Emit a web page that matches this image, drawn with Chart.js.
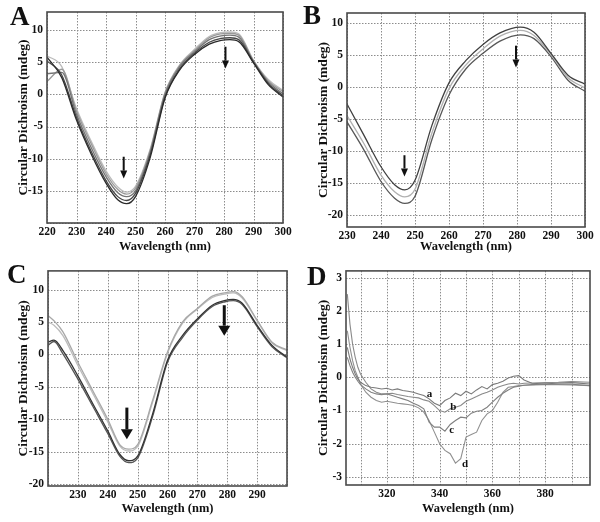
<!DOCTYPE html>
<html>
<head>
<meta charset="utf-8">
<script src="https://cdn.jsdelivr.net/npm/chart.js@4.4.0/dist/chart.umd.min.js"></script>
<style>
  body { margin: 0; background: #fff; }
  #wrap { position: relative; width: 600px; height: 522px; overflow: hidden; }
  .panel { position: absolute; }
  .letter { position: absolute; font-family: "Liberation Serif", "Times New Roman", serif; font-weight: bold; font-size: 27px; line-height: 27px; color: #111; }
</style>
</head>
<body>
<div id="wrap">
  <div class="panel" style="left:0;top:0"><canvas id="chartA" width="300" height="260"></canvas></div>
  <div class="panel" style="left:300px;top:0"><canvas id="chartB" width="300" height="260"></canvas></div>
  <div class="panel" style="left:0;top:260px"><canvas id="chartC" width="300" height="262"></canvas></div>
  <div class="panel" style="left:300px;top:260px"><canvas id="chartD" width="300" height="262"></canvas></div>
  <div class="letter" style="left:10px;top:3px">A</div>
  <div class="letter" style="left:303px;top:2px">B</div>
  <div class="letter" style="left:7px;top:261px">C</div>
  <div class="letter" style="left:307px;top:263px">D</div>
</div>
<script>
// Panel A - five spectra
var waveA = [220, 225, 230, 235, 240, 244, 247, 250, 255, 260, 265, 270, 275, 279, 282, 285, 290, 295, 300];
var a1 = [5.8, 2.6, -4.0, -9.3, -13.8, -16.4, -17.0, -15.9, -9.8, -0.6, 3.8, 6.2, 7.8, 8.4, 8.5, 8.2, 4.9, 1.5, -0.4];
var a2 = [5.2, 3.0, -3.6, -8.9, -13.4, -15.9, -16.5, -15.4, -9.4, -0.4, 4.0, 6.4, 8.1, 8.7, 8.8, 8.5, 5.0, 1.7, -0.2];
var a3 = [3.2, 3.4, -3.1, -8.3, -12.8, -15.3, -15.9, -15.0, -9.0, 0.0, 4.3, 6.6, 8.5, 9.1, 9.2, 8.9, 5.1, 1.9, 0.1];
var a4 = [2.0, 3.9, -2.6, -7.7, -12.3, -14.8, -15.5, -14.6, -8.7, 0.2, 4.5, 6.8, 8.8, 9.4, 9.5, 9.2, 5.2, 2.1, 0.4];
var a5 = [6.0, 4.3, -2.2, -7.3, -11.9, -14.4, -15.2, -14.3, -8.5, 0.3, 4.6, 7.0, 9.0, 9.6, 9.7, 9.4, 5.3, 2.3, 0.6];

// Panel B - three spectra
var waveB = [230, 235, 240, 244, 247, 250, 255, 260, 265, 270, 275, 281, 285, 290, 295, 300];
var b1 = [-2.7, -7.6, -12.5, -15.3, -16.1, -14.6, -6.0, 0.6, 4.1, 6.6, 8.4, 9.3, 8.5, 5.2, 1.8, 0.4];
var b2 = [-4.5, -8.9, -13.8, -16.4, -17.2, -16.0, -7.2, -0.3, 3.4, 5.9, 7.9, 8.8, 8.0, 5.0, 1.4, -0.2];
var b3 = [-5.5, -9.9, -14.8, -17.4, -18.2, -17.1, -8.2, -1.3, 2.8, 5.2, 7.1, 8.1, 7.5, 4.7, 1.0, -0.7];

// Panel C - four spectra
var waveC = [220, 222, 225, 230, 235, 240, 244, 247, 250, 255, 260, 265, 270, 275, 279, 282, 285, 290, 295, 300];
var c1 = [6.0, 5.2, 3.5, -1.2, -5.6, -10.0, -13.9, -14.6, -13.9, -7.1, 0.4, 5.0, 7.1, 9.0, 9.5, 9.7, 8.9, 5.3, 1.9, 0.7];
var c2 = [5.0, 4.5, 2.9, -1.7, -6.0, -10.4, -14.1, -14.9, -14.2, -7.4, 0.2, 4.8, 7.0, 8.8, 9.3, 9.5, 8.7, 5.2, 1.8, 0.6];
var c3 = [1.9, 2.2, 0.6, -3.3, -7.6, -11.8, -15.4, -16.4, -15.7, -9.2, -0.9, 2.9, 5.5, 7.6, 8.3, 8.5, 7.9, 4.5, 1.4, -0.4];
var c4 = [1.4, 2.0, 0.1, -3.8, -8.0, -12.2, -15.7, -16.7, -16.0, -9.6, -1.2, 2.6, 5.3, 7.4, 8.1, 8.3, 7.7, 4.3, 1.2, -0.5];

// Panel D - near-UV spectra a..d
var waveD = [305, 306, 307, 308, 309, 310, 312, 314, 316, 318, 320, 322, 324, 326, 328, 330, 332, 334, 336, 338, 340, 342, 344, 346, 348, 350, 352, 354, 356, 358, 360, 362, 364, 366, 368, 370, 372, 375, 380, 385, 390, 397];
var dA = [0.9, 0.55, 0.3, 0.1, -0.05, -0.15, -0.25, -0.3, -0.32, -0.35, -0.33, -0.38, -0.35, -0.4, -0.42, -0.45, -0.5, -0.55, -0.65, -0.78, -0.85, -0.7, -0.62, -0.48, -0.55, -0.42, -0.5, -0.38, -0.28, -0.35, -0.22, -0.18, -0.12, -0.02, 0.03, 0.05, -0.08, -0.18, -0.2, -0.17, -0.16, -0.2];
var dB = [2.5, 1.6, 1.0, 0.6, 0.3, 0.1, -0.15, -0.35, -0.45, -0.5, -0.5, -0.48, -0.52, -0.55, -0.58, -0.6, -0.62, -0.68, -0.72, -0.85, -1.0, -1.05, -0.95, -0.9, -0.85, -0.72, -0.65, -0.58, -0.5, -0.45, -0.38, -0.3, -0.25, -0.2, -0.18, -0.2, -0.18, -0.17, -0.16, -0.15, -0.13, -0.15];
var dC = [0.6, 0.35, 0.15, 0.0, -0.12, -0.22, -0.35, -0.45, -0.5, -0.52, -0.5, -0.55, -0.6, -0.65, -0.7, -0.78, -0.85, -0.95, -1.35, -1.5, -1.5, -1.62, -1.42, -1.3, -1.2, -1.22, -1.08, -1.02, -1.0, -0.9, -0.75, -0.6, -0.48, -0.38, -0.3, -0.27, -0.24, -0.22, -0.2, -0.2, -0.21, -0.25];
var dD = [1.4, 0.9, 0.5, 0.2, 0.0, -0.2, -0.45, -0.6, -0.7, -0.75, -0.72, -0.75, -0.78, -0.8, -0.82, -0.85, -0.92, -1.05, -1.3, -1.65, -2.0, -2.2, -2.3, -2.58, -2.45, -1.8, -1.72, -1.65, -1.3, -1.1, -1.0, -0.75, -0.45, -0.3, -0.28, -0.25, -0.24, -0.23, -0.22, -0.22, -0.23, -0.25];

var serif = '"Liberation Serif", "Times New Roman", serif';

var framePlugin = {
    id: 'frame',
    // dotted grid on every tick of both scales
    beforeDatasetsDraw: function (chart) {
        var ctx = chart.ctx, area = chart.chartArea;
        var xs = chart.scales.x, ys = chart.scales.y;
        ctx.save();
        ctx.strokeStyle = '#8c8c8c';
        ctx.lineWidth = 1;
        ctx.setLineDash([1.5, 1.5]);
        ctx.beginPath();
        xs.ticks.forEach(function (t) {
            var x = Math.round(xs.getPixelForValue(t.value)) + 0.5;
            ctx.moveTo(x, area.top);
            ctx.lineTo(x, area.bottom);
        });
        ys.ticks.forEach(function (t) {
            var y = Math.round(ys.getPixelForValue(t.value)) + 0.5;
            ctx.moveTo(area.left, y);
            ctx.lineTo(area.right, y);
        });
        ctx.stroke();
        ctx.restore();
    },
    afterDatasetsDraw: function (chart, args, opts) {
        var ctx = chart.ctx, area = chart.chartArea;
        var xs = chart.scales.x, ys = chart.scales.y;
        ctx.save();
        ctx.strokeStyle = '#4a4a4a';
        ctx.lineWidth = 1.6;
        ctx.strokeRect(area.left, area.top, area.right - area.left, area.bottom - area.top);

        (opts.arrows || []).forEach(function (ar) {
            var x = xs.getPixelForValue(ar.x);
            var y1 = ys.getPixelForValue(ar.from);
            var y2 = ys.getPixelForValue(ar.to);
            ctx.fillStyle = '#111';
            ctx.strokeStyle = '#111';
            ctx.lineWidth = ar.w;
            ctx.beginPath();
            ctx.moveTo(x, y1);
            ctx.lineTo(x, y2 - ar.head);
            ctx.stroke();
            ctx.beginPath();
            ctx.moveTo(x - ar.hw / 2, y2 - ar.head);
            ctx.lineTo(x + ar.hw / 2, y2 - ar.head);
            ctx.lineTo(x, y2);
            ctx.closePath();
            ctx.fill();
        });

        ctx.fillStyle = '#111';
        ctx.font = 'bold 11px ' + serif;
        ctx.textAlign = 'center';
        ctx.textBaseline = 'middle';
        (opts.labels || []).forEach(function (lb) {
            ctx.fillText(lb.text, xs.getPixelForValue(lb.x), ys.getPixelForValue(lb.y));
        });
        ctx.restore();
    }
};

function pairs(xs, ys) {
    return xs.map(function (w, i) { return { x: w, y: ys[i] }; });
}

function makePanel(id, p) {
    return new Chart(document.getElementById(id), {
        type: 'line',
        data: {
            datasets: p.series.map(function (s, i) {
                return {
                    data: pairs(p.wave, s),
                    borderColor: p.colors[i],
                    borderWidth: p.lineWidth,
                    pointRadius: 0,
                    fill: false,
                    cubicInterpolationMode: p.smooth ? 'monotone' : 'default',
                    tension: 0
                };
            })
        },
        options: {
            responsive: false,
            animation: false,
            layout: { padding: { top: p.area.top, right: p.area.right, bottom: 0, left: 0 } },
            plugins: {
                legend: { display: false },
                tooltip: { enabled: false },
                frame: { arrows: p.arrows, labels: p.labels }
            },
            scales: {
                x: {
                    type: 'linear',
                    min: p.xMin, max: p.xMax,
                    afterFit: function (s) { s.height = p.area.xh; },
                    grid: { display: false, drawTicks: false },
                    border: { display: false },
                    ticks: {
                        stepSize: 10, includeBounds: false, autoSkip: false, maxRotation: 0,
                        padding: 2, color: '#111',
                        font: { family: serif, size: 11.5, weight: 'bold' },
                        callback: p.xLabel
                    },
                    title: {
                        display: true, text: 'Wavelength (nm)', color: '#111',
                        font: { family: serif, size: 12.5, weight: 'bold' },
                        padding: { top: 0, bottom: 6 }
                    }
                },
                y: {
                    min: p.yMin, max: p.yMax,
                    afterFit: function (s) { s.width = p.area.left; },
                    grid: { display: false, drawTicks: false },
                    border: { display: false },
                    ticks: {
                        stepSize: p.yStep, includeBounds: false, padding: 4, color: '#111',
                        font: { family: serif, size: 11.5, weight: 'bold' },
                        callback: p.yLabel
                    },
                    title: {
                        display: true, text: 'Circular Dichroism (mdeg)', color: '#111',
                        font: { family: serif, size: 13.5, weight: 'bold' },
                        padding: { top: 15, bottom: 0 }
                    }
                }
            }
        },
        plugins: [framePlugin]
    });
}

makePanel('chartA', {
    wave: waveA, series: [a1, a2, a3, a4, a5],
    colors: ['#2b2b2b', '#474747', '#747474', '#9a9a9a', '#bcbcbc'],
    lineWidth: 1.3, smooth: true,
    xMin: 220, xMax: 300, yMin: -20, yMax: 12.8, yStep: 5,
    area: { left: 47, top: 12, right: 17, xh: 37 },
    xLabel: function (v) { return v; },
    yLabel: function (v) { return v < -15 ? '' : v; },
    arrows: [
        { x: 246, from: -9.7, to: -13.1, w: 2, hw: 7, head: 8 },
        { x: 280.5, from: 7.4, to: 4.0, w: 2, hw: 7, head: 8 }
    ]
});

makePanel('chartB', {
    wave: waveB, series: [b1, b2, b3],
    colors: ['#404040', '#b0b0b0', '#575757'],
    lineWidth: 1.3, smooth: true,
    xMin: 230, xMax: 300, yMin: -21.9, yMax: 11.5, yStep: 5,
    area: { left: 47, top: 13, right: 15, xh: 33 },
    xLabel: function (v) { return v; },
    yLabel: function (v) { return v; },
    arrows: [
        { x: 246.9, from: -10.7, to: -14.0, w: 2, hw: 7, head: 8 },
        { x: 279.7, from: 6.4, to: 3.0, w: 2, hw: 7, head: 8 }
    ]
});

makePanel('chartC', {
    wave: waveC, series: [c1, c2, c3, c4],
    colors: ['#a8a8a8', '#bcbcbc', '#333333', '#555555'],
    lineWidth: 1.3, smooth: true,
    xMin: 220, xMax: 300, yMin: -20.3, yMax: 12.9, yStep: 5,
    area: { left: 48, top: 10, right: 13, xh: 36 },
    xLabel: function (v) { return (v >= 230 && v <= 290) ? v : ''; },
    yLabel: function (v) { return v; },
    arrows: [
        { x: 246.4, from: -8.2, to: -13.1, w: 3, hw: 12, head: 10 },
        { x: 279, from: 7.6, to: 2.9, w: 3, hw: 12, head: 10 }
    ]
});

makePanel('chartD', {
    wave: waveD, series: [dA, dB, dC, dD],
    colors: ['#7a7a7a', '#8a8a8a', '#808080', '#909090'],
    lineWidth: 1.1, smooth: false,
    xMin: 304.5, xMax: 397, yMin: -3.24, yMax: 3.2, yStep: 1,
    area: { left: 46, top: 7, right: 10, xh: 37 },
    xLabel: function (v) { return v % 20 === 0 ? v : ''; },
    yLabel: function (v) { return v; },
    labels: [
        { text: 'a', x: 336.2, y: -0.5 },
        { text: 'b', x: 345.2, y: -0.9 },
        { text: 'c', x: 344.6, y: -1.6 },
        { text: 'd', x: 349.6, y: -2.6 }
    ]
});
</script>
</body>
</html>
